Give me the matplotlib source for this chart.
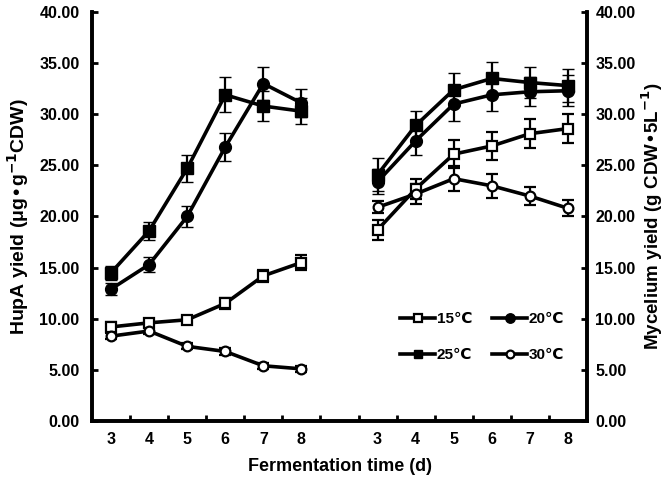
import matplotlib
matplotlib.use("Agg")
import matplotlib.pyplot as plt
from matplotlib.ticker import FormatStrFormatter, FixedLocator

plt.rcParams['font.family'] = ['Liberation Sans', 'DejaVu Sans']
plt.rcParams['font.weight'] = 'bold'
plt.rcParams['mathtext.default'] = 'bf'

days = [3, 4, 5, 6, 7, 8]
temps = ['15℃', '20℃', '25℃', '30℃']

hupa_15 = [9.2, 9.6, 9.9, 11.5, 14.2, 15.5]
hupa_15_err = [0.5, 0.4, 0.4, 0.5, 0.6, 0.7]
hupa_20 = [12.9, 15.3, 20.0, 26.8, 33.0, 31.1]
hupa_20_err = [0.6, 0.7, 1.0, 1.4, 1.6, 1.4]
hupa_25 = [14.5, 18.6, 24.7, 31.9, 30.8, 30.3]
hupa_25_err = [0.7, 0.9, 1.3, 1.7, 1.5, 1.3]
hupa_30 = [8.3, 8.8, 7.3, 6.8, 5.4, 5.1]
hupa_30_err = [0.3, 0.3, 0.3, 0.3, 0.3, 0.3]

myc_15 = [18.7, 22.7, 26.1, 26.9, 28.1, 28.6]
myc_15_err = [1.0, 1.0, 1.4, 1.4, 1.4, 1.4]
myc_20 = [23.4, 27.4, 31.0, 31.9, 32.2, 32.3]
myc_20_err = [1.2, 1.4, 1.7, 1.6, 1.4, 1.5]
myc_25 = [24.1, 28.9, 32.4, 33.5, 33.1, 32.8]
myc_25_err = [1.6, 1.4, 1.6, 1.6, 1.5, 1.6]
myc_30 = [20.9, 22.2, 23.7, 23.0, 22.0, 20.8]
myc_30_err = [0.6, 1.0, 1.2, 1.2, 0.9, 0.8]

hupa = [(hupa_15, hupa_15_err), (hupa_20, hupa_20_err), (hupa_25, hupa_25_err), (hupa_30, hupa_30_err)]
myc = [(myc_15, myc_15_err), (myc_20, myc_20_err), (myc_25, myc_25_err), (myc_30, myc_30_err)]

styles = [
    dict(marker='s', mfc='white', ms=6.5, mew=1.6),
    dict(marker='o', mfc='black', ms=8.5, mew=1.0),
    dict(marker='s', mfc='black', ms=8.0, mew=1.0),
    dict(marker='o', mfc='white', ms=7.0, mew=1.6),
]

fig = plt.figure(figsize=(6.71, 4.91), dpi=100)
ax = fig.add_axes([92/671, 1 - 421/491, (587-92)/671, (421-12)/491])

n = len(days)
x_left = [i + 1 for i in range(n)]
x_right = [i + n + 2 for i in range(n)]

handles = {}
for (vals, err), (mv, me), st, lab in zip(hupa, myc, styles, temps):
    for xs, v, e in ((x_left, vals, err), (x_right, mv, me)):
        ax.errorbar(xs, v, yerr=e, color='black', lw=2.6, elinewidth=1.6,
                    capsize=4, capthick=1.6, mec='black', zorder=3, **st)
    h, = ax.plot([], [], color='black', lw=2.6, mec='black',
                 **{**st, 'ms': st['ms'] * 0.8})
    h.set_label(lab)
    handles[lab] = h

ax.set_xlim(0.5, 2 * n + 1.5)
ax.set_ylim(0, 40)
ax.set_yticks(range(0, 41, 5))
ax.yaxis.set_major_formatter(FormatStrFormatter('%.2f'))

ax.xaxis.set_major_locator(FixedLocator([i + 0.5 for i in range(1, 2 * n + 1)]))
ax.xaxis.set_minor_locator(FixedLocator(x_left + x_right))
ax.set_xticklabels([], minor=False)
ax.set_xticklabels([str(d) for d in days] * 2, minor=True)
ax.tick_params(axis='x', which='major', direction='in', length=4, width=2)
ax.tick_params(axis='x', which='minor', length=0, pad=8, labelsize=11.5)
ax.tick_params(axis='y', direction='in', length=4, width=2, labelsize=11.5, pad=9)

ax2 = ax.twinx()
ax2.set_ylim(0, 40)
ax2.set_yticks(range(0, 41, 5))
ax2.yaxis.set_major_formatter(FormatStrFormatter('%.2f'))
ax2.tick_params(axis='y', direction='in', length=4, width=2, labelsize=11.5, pad=6)

for a in (ax, ax2):
    a.spines['top'].set_visible(False)
    for s in ('left', 'right', 'bottom'):
        a.spines[s].set_linewidth(2.6)

ax.set_ylabel('HupA yield (μg•g$^{-1}$CDW)', fontsize=14, fontweight='bold', labelpad=6)
ax2.set_ylabel('Mycelium yield (g CDW•5L$^{-1}$)', fontsize=13.5, fontweight='bold', labelpad=3)
ax.set_xlabel('Fermentation time (d)', fontsize=13, fontweight='bold', labelpad=8)

order = ['15℃', '25℃', '20℃', '30℃']
ax.legend(handles=[handles[k] for k in order], ncol=2, frameon=False, loc='center left',
          bbox_to_anchor=(0.595, 0.205), handlelength=2.3, handletextpad=0.1,
          columnspacing=1.3, labelspacing=1.45, fontsize=11)

fig.savefig('out.png', dpi=100)
